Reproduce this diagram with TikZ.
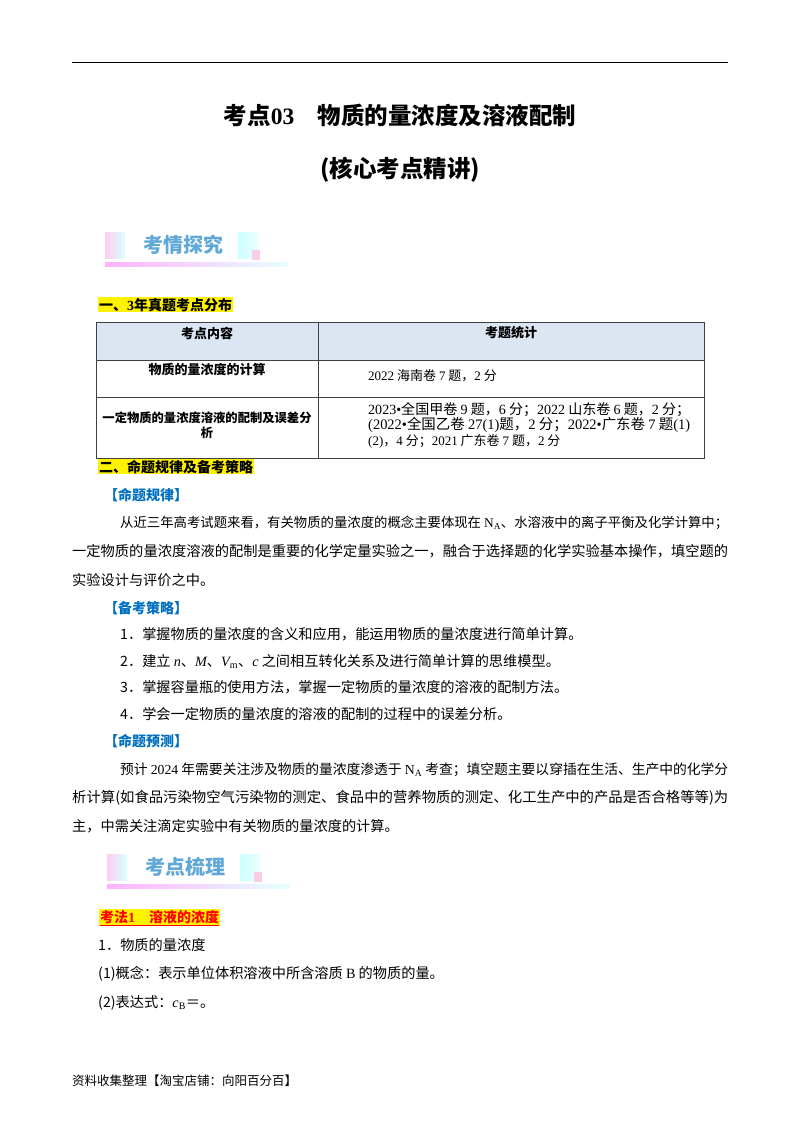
\documentclass[tikz,border=0pt]{standalone}
\usepackage{fontspec}
\usepackage{graphicx}
\setmainfont{Noto Sans CJK SC}
\newfontfamily\lat{Liberation Serif}
\definecolor{hdr}{HTML}{DCE6F2}
\definecolor{bl}{HTML}{0070C0}
\definecolor{bn}{HTML}{5FA8D8}
\tikzset{
 body/.style={anchor=base west,inner sep=0,font=\fontsize{14.2}{16}\selectfont},
 cell/.style={inner sep=0,font=\fontsize{13}{15.5}\selectfont},
 hl/.style={anchor=base west,inner sep=1pt,fill=yellow,font=\bfseries\fontsize{14}{16}\selectfont},
 blue/.style={anchor=base west,inner sep=0,text=bl,font=\bfseries\fontsize{14}{16}\selectfont},
 grid/.style={draw=black!75,line width=0.8pt}
}
\newcommand\banner[3]{%
 \fill[left color=pink!60!magenta!35,right color=cyan!15] (#1+2,#2+2) rectangle (#1+22,#2+28);
 \fill[left color=cyan!20,right color=cyan!8] (#1+135,#2+2) rectangle (#1+155,#2+28);
 \fill[magenta!20] (#1+149,#2+20) rectangle (#1+157,#2+30);
 \fill[left color=magenta!30,right color=cyan!10] (#1+2,#2+32) rectangle (#1+185,#2+36);
 \node[anchor=center,text=bn,font=\bfseries\fontsize{20}{22}\selectfont] at (#1+80,#2+15) {#3};}
\begin{document}
\begin{tikzpicture}[x=1pt,y=-1pt]
\useasboundingbox (0,0) rectangle (800,1132);
\fill[white] (0,0) rectangle (800,1132);
\draw[line width=1pt] (72,63) -- (728,63);
\node[font=\bfseries\fontsize{23.5}{25}\selectfont] (t1) at (400,116) {考点{\lat 03}\quad 物质的量浓度及溶液配制};
\node[font=\bfseries\fontsize{23.5}{25}\selectfont] (t2) at (400,170) {(核心考点精讲)};
\banner{103}{230}{考情探究}
\node[hl] (h1) at (98,310) {一、{\lat 3}年真题考点分布};
\fill[hdr] (96,322) rectangle (704,360);
\draw[grid] (96,322) rectangle (704,458);
\draw[grid] (96,360) -- (704,360) (96,397) -- (704,397) (318,322) -- (318,458);
\node[cell,font=\bfseries\fontsize{13}{15}\selectfont] (c1) at (207,333) {考点内容};
\node[cell,font=\bfseries\fontsize{13}{15}\selectfont] (c2) at (511,333) {考题统计};
\node[cell,font=\bfseries\fontsize{13}{15}\selectfont] (c3) at (207,370) {物质的量浓度的计算};
\node[cell,anchor=west] (c4) at (368,376) {{\lat 2022} 海南卷 {\lat 7} 题，{\lat 2} 分};
\node[cell,anchor=west,align=left] (c6) at (368,425) {\resizebox{322pt}{!}{{\lat 2023•}全国甲卷 {\lat 9} 题，{\lat 6} 分；{\lat 2022} 山东卷 {\lat 6} 题，{\lat 2} 分；}\\\resizebox{322pt}{!}{{\lat (2022•}全国乙卷 {\lat 27(1)}题，{\lat 2} 分；{\lat 2022•}广东卷 {\lat 7} 题{\lat (1)}}\\{\lat (2)}，{\lat 4} 分；{\lat 2021} 广东卷 {\lat 7} 题，{\lat 2} 分};
\node[cell,align=center,font=\bfseries\fontsize{12.3}{15}\selectfont] (c5) at (207,425) {一定物质的量浓度溶液的配制及误差分\\析};
\node[hl] (h2) at (98,472) {二、命题规律及备考策略};
\node[blue] (b1) at (104,500) {【命题规律】};
\node[body] (p1) at (120,527) {\resizebox{608pt}{!}{从近三年高考试题来看，有关物质的量浓度的概念主要体现在 {\lat N\textsubscript{A}}、水溶液中的离子平衡及化学计算中；}};
\node[body] (p2) at (72,556) {\resizebox{656pt}{!}{一定物质的量浓度溶液的配制是重要的化学定量实验之一，融合于选择题的化学实验基本操作，填空题的}};
\node[body] (p3) at (72,585) {实验设计与评价之中。};
\node[blue] (b2) at (104,613) {【备考策略】};
\node[body] (s1) at (120,639) {1．掌握物质的量浓度的含义和应用，能运用物质的量浓度进行简单计算。};
\node[body] (s2) at (120,666) {2．建立 {\lat\itshape n}、{\lat\itshape M}、{\lat\itshape V}\textsubscript{\lat m}、{\lat\itshape c} 之间相互转化关系及进行简单计算的思维模型。};
\node[body] (s3) at (120,692) {3．掌握容量瓶的使用方法，掌握一定物质的量浓度的溶液的配制方法。};
\node[body] (s4) at (120,719) {4．学会一定物质的量浓度的溶液的配制的过程中的误差分析。};
\node[blue] (b3) at (104,746) {【命题预测】};
\node[body] (q1) at (120,774) {\resizebox{608pt}{!}{预计 {\lat 2024} 年需要关注涉及物质的量浓度渗透于 {\lat N\textsubscript{A}} 考查；填空题主要以穿插在生活、生产中的化学分}};
\node[body] (q2) at (72,802) {\resizebox{656pt}{!}{析计算(如食品污染物空气污染物的测定、食品中的营养物质的测定、化工生产中的产品是否合格等等)为}};
\node[body] (q3) at (72,831) {主，中需关注滴定实验中有关物质的量浓度的计算。};
\banner{105}{852}{考点梳理}
\node[hl,fill=yellow,text=red,inner sep=1pt] (k1) at (99,922) {\underline{考法{\lat 1}\quad 溶液的浓度}};
\node[body] (k2) at (98,950) {1．物质的量浓度};
\node[body] (k3) at (98,978) {(1)概念：表示单位体积溶液中所含溶质 {\lat B} 的物质的量。};
\node[body] (k4) at (98,1007) {(2)表达式：{\lat\itshape c}\textsubscript{\lat B}＝。};
\node[anchor=base west,inner sep=0,font=\fontsize{12.5}{14}\selectfont] (f) at (72,1085) {资料收集整理【淘宝店铺：向阳百分百】};
\end{tikzpicture}
\end{document}
